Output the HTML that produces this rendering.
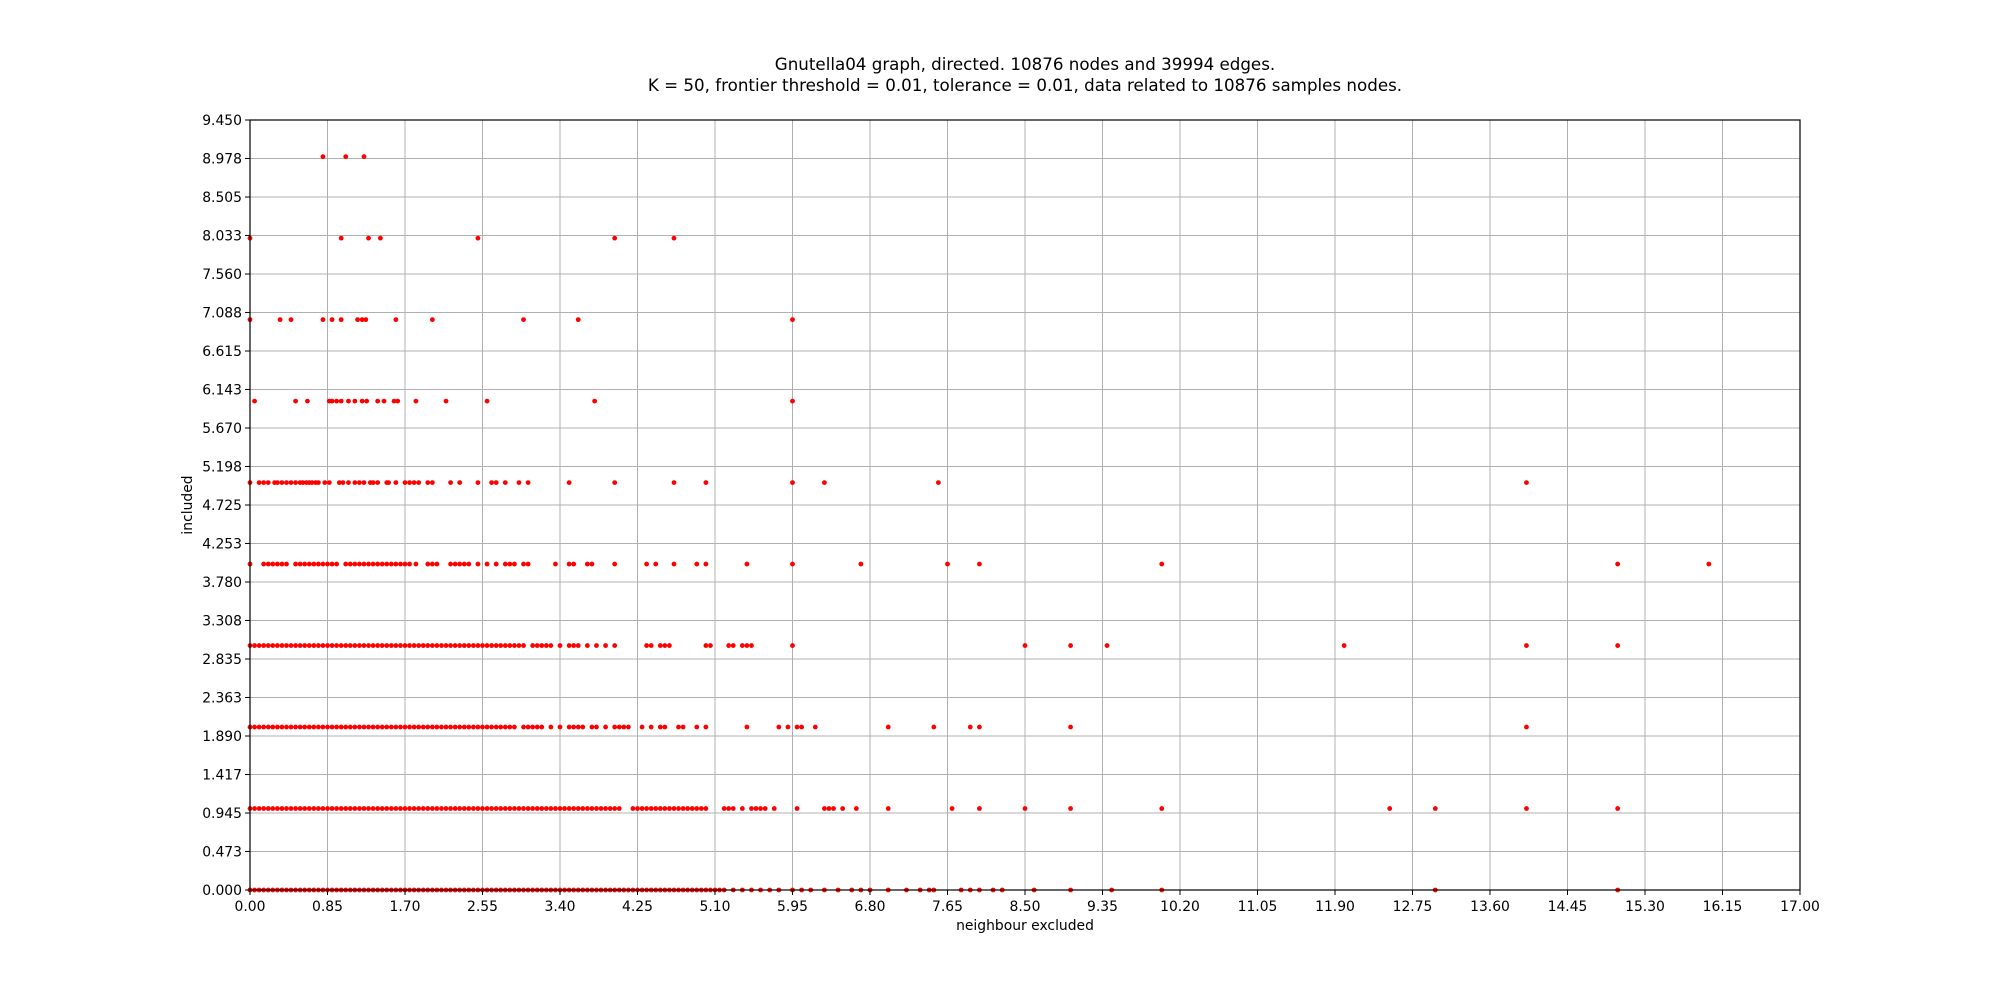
<!DOCTYPE html>
<html><head><meta charset="utf-8"><style>
html,body{margin:0;padding:0;background:#fff;}
svg{display:block;font-family:"DejaVu Sans","Liberation Sans",sans-serif;}
</style></head><body>
<svg id="chart" width="2000" height="1000" viewBox="0 0 2000 1000" xmlns="http://www.w3.org/2000/svg">
<rect width="2000" height="1000" fill="#fff"/>
<text x="1025" y="70" font-size="16.7" text-anchor="middle">Gnutella04 graph, directed. 10876 nodes and 39994 edges.</text>
<text x="1025" y="91" font-size="16.7" text-anchor="middle">K = 50, frontier threshold = 0.01, tolerance = 0.01, data related to 10876 samples nodes.</text>
<g id="grid"></g>
<g id="marks"></g>
<rect x="250" y="120" width="1550" height="770" fill="none" stroke="#000" stroke-width="1.2"/>
<g id="ticks"></g>
<text x="1025" y="930" font-size="13.9" text-anchor="middle">neighbour excluded</text>
<text x="192" y="505" font-size="13.9" text-anchor="middle" transform="rotate(-90 192 505)">included</text>
</svg>
<script>
const xTicks=["0.00","0.85","1.70","2.55","3.40","4.25","5.10","5.95","6.80","7.65","8.50","9.35","10.20","11.05","11.90","12.75","13.60","14.45","15.30","16.15","17.00"];
const yTicks=["0.000","0.473","0.945","1.417","1.890","2.363","2.835","3.308","3.780","4.253","4.725","5.198","5.670","6.143","6.615","7.088","7.560","8.033","8.505","8.978","9.450"];
const dense0to29=[0,0.05,0.1,0.15,0.2,0.25,0.3,0.35,0.4,0.45,0.5,0.55,0.6,0.65,0.7,0.75,0.8,0.85,0.9,0.95,1,1.05,1.1,1.15,1.2,1.25,1.3,1.35,1.4,1.45,1.5,1.55,1.6,1.65,1.7,1.75,1.8,1.85,1.9,1.95,2,2.05,2.1,2.15,2.2,2.25,2.3,2.35,2.4,2.45,2.5,2.55,2.6,2.65,2.7,2.75,2.8,2.85,2.9];
const x9=[0.8,1.05,1.25];
const x8=[0.0,1.0,1.3,1.43,2.5,4.0,4.65];
const x7=[0.0,0.33,0.45,0.8,0.9,1.0,1.18,1.23,1.27,1.6,2.0,3.0,3.6,5.95];
const x6=[0.05,0.5,0.63,0.87,0.9,0.95,1.0,1.08,1.15,1.23,1.28,1.4,1.47,1.58,1.62,1.82,2.15,2.6,3.78,5.95];
const x5=[0.0,0.1,0.15,0.2,0.27,0.3,0.35,0.4,0.45,0.5,0.55,0.58,0.62,0.65,0.68,0.72,0.75,0.82,0.87,0.98,1.02,1.08,1.15,1.2,1.25,1.32,1.35,1.4,1.5,1.52,1.6,1.7,1.75,1.8,1.85,1.95,2.0,2.2,2.3,2.5,2.65,2.7,2.8,2.95,3.05,3.5,4.0,4.65,5.0,5.95,6.3,7.55,14.0];
const x4=[0.0,0.15,0.2,0.25,0.3,0.35,0.4,0.5,0.55,0.6,0.65,0.7,0.75,0.8,0.85,0.9,0.95,1.05,1.1,1.15,1.2,1.25,1.3,1.35,1.4,1.45,1.5,1.55,1.6,1.65,1.7,1.75,1.82,1.95,2.0,2.05,2.2,2.25,2.3,2.35,2.4,2.5,2.6,2.7,2.8,2.85,2.9,3.0,3.05,3.35,3.5,3.55,3.7,3.75,4.0,4.35,4.45,4.65,4.9,5.0,5.45,5.95,6.7,7.65,8.0,10.0,15.0,16.0];
const x3extra=[2.95,3.0,3.1,3.15,3.2,3.25,3.3,3.4,3.5,3.55,3.6,3.7,3.8,3.9,4.0,4.35,4.4,4.5,4.55,4.6,5.0,5.05,5.25,5.3,5.4,5.45,5.5,5.95,8.5,9.0,9.4,12.0,14.0,15.0];
const x2extra=[3.0,3.05,3.1,3.15,3.2,3.3,3.4,3.5,3.55,3.6,3.65,3.75,3.8,3.9,4.0,4.05,4.1,4.15,4.3,4.4,4.5,4.55,4.7,4.75,4.9,5.0,5.45,5.8,5.9,6.0,6.05,6.2,7.0,7.5,7.9,8.0,9.0,14.0];
const x1extra=[2.95,3.0,3.05,3.1,3.15,3.2,3.25,3.3,3.35,3.4,3.45,3.5,3.55,3.6,3.65,3.7,3.75,3.8,3.85,3.9,3.95,4.0,4.05,4.2,4.25,4.3,4.35,4.4,4.45,4.5,4.55,4.6,4.65,4.7,4.75,4.8,4.85,4.9,4.95,5.0,5.2,5.25,5.3,5.4,5.5,5.55,5.6,5.65,5.75,6.0,6.3,6.35,6.4,6.5,6.65,7.0,7.7,8.0,8.5,9.0,10.0,12.5,13.0,14.0,15.0];
const x0extra=[2.95,3.0,3.05,3.1,3.15,3.2,3.25,3.3,3.35,3.4,3.45,3.5,3.55,3.6,3.65,3.7,3.75,3.8,3.85,3.9,3.95,4.0,4.05,4.1,4.15,4.2,4.25,4.3,4.35,4.4,4.45,4.5,4.55,4.6,4.65,4.7,4.75,4.8,4.85,4.9,4.95,5.0,5.05,5.1,5.15,5.2,5.3,5.4,5.5,5.6,5.7,5.8,5.95,6.05,6.15,6.3,6.45,6.6,6.7,6.8,7.0,7.2,7.35,7.45,7.5,7.8,7.9,8.0,8.15,8.25,8.6,9.0,9.45,10.0,13.0,15.0];
const rowLevels=[0,1,2,3,4,5,6,7,8,9];
const rowX=[dense0to29.concat(x0extra),dense0to29.concat(x1extra),dense0to29.concat(x2extra),dense0to29.concat(x3extra),x4,x5,x6,x7,x8,x9];

const NS="http://www.w3.org/2000/svg";
const X0=250,X1=1800,Y0=890,Y1=120,XMAX=17,YMAX=9.45;
function sx(v){return X0+v/XMAX*(X1-X0);}
function sy(v){return Y0-v/YMAX*(Y0-Y1);}
function mk(t,a){const e=document.createElementNS(NS,t);for(const k in a)e.setAttribute(k,a[k]);return e;}
const grid=document.getElementById('grid'),ticks=document.getElementById('ticks'),marks=document.getElementById('marks');
xTicks.forEach(function(lab){
  const x=sx(parseFloat(lab));
  const g=mk('line',{x1:x,x2:x,y1:Y1,y2:Y0,stroke:'#b0b0b0','stroke-width':1});
  
  
  grid.appendChild(g);
  const t=mk('line',{x1:x,x2:x,y1:Y0,y2:Y0+5,stroke:'#000','stroke-width':1});
  
  
  ticks.appendChild(t);
  const l=mk('text',{x:x,y:Y0+21,'font-size':13.9,'text-anchor':'middle'});
  
  
  l.textContent=lab;ticks.appendChild(l);
});
yTicks.forEach(function(lab){
  const y=sy(parseFloat(lab));
  const g=mk('line',{x1:X0,x2:X1,y1:y,y2:y,stroke:'#b0b0b0','stroke-width':1});
  
  
  grid.appendChild(g);
  const t=mk('line',{x1:X0-5,x2:X0,y1:y,y2:y,stroke:'#000','stroke-width':1});
  
  
  ticks.appendChild(t);
  const l=mk('text',{x:X0-8,y:y+5,'font-size':13.9,'text-anchor':'end'});
  
  
  l.textContent=lab;ticks.appendChild(l);
});
rowLevels.forEach(function(lv,i){
  rowX[i].forEach(function(xv){
    const c=mk('circle',{cx:sx(xv),cy:sy(lv),r:2.4,fill:'#ff0000'});
    
    
    marks.appendChild(c);
  });
});
</script>
</body></html>
